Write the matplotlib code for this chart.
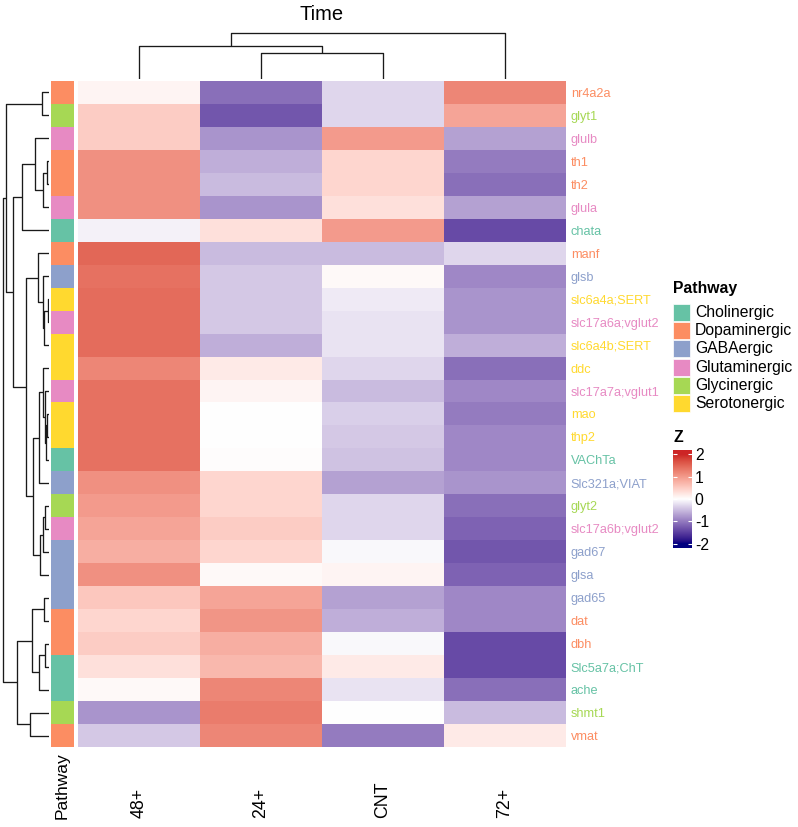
import numpy as np
import matplotlib
matplotlib.use("Agg")
import matplotlib.pyplot as plt
from matplotlib.colors import ListedColormap, Normalize
from matplotlib.patches import Rectangle
import matplotlib.transforms as mtransforms

# ---------------- data ----------------
genes = ["nr4a2a", "glyt1", "glulb", "th1", "th2", "glula", "chata", "manf", "glsb",
         "slc6a4a;SERT", "slc17a6a;vglut2", "slc6a4b;SERT", "ddc", "slc17a7a;vglut1",
         "mao", "thp2", "VAChTa", "Slc321a;VIAT", "glyt2", "slc17a6b;vglut2", "gad67",
         "glsa", "gad65", "dat", "dbh", "Slc5a7a;ChT", "ache", "shmt1", "vmat"]
pathway = ["Dopaminergic", "Glycinergic", "Glutaminergic", "Dopaminergic", "Dopaminergic",
           "Glutaminergic", "Cholinergic", "Dopaminergic", "GABAergic", "Serotonergic",
           "Glutaminergic", "Serotonergic", "Serotonergic", "Glutaminergic", "Serotonergic",
           "Serotonergic", "Cholinergic", "GABAergic", "Glycinergic", "Glutaminergic",
           "GABAergic", "GABAergic", "GABAergic", "Dopaminergic", "Dopaminergic",
           "Cholinergic", "Cholinergic", "Glycinergic", "Dopaminergic"]
pathway_levels = ["Cholinergic", "Dopaminergic", "GABAergic", "Glutaminergic",
                  "Glycinergic", "Serotonergic"]
pathway_colors = ["#66C2A5", "#FC8D62", "#8DA0CB", "#E78AC3", "#A6D854", "#FFD92F"]

time_cols = ["48+", "24+", "CNT", "72+"]
z_48 = [0.1, 0.5, 0.5, 1.1, 1.1, 1.1, -0.1, 1.5, 1.4, 1.45, 1.45, 1.45, 1.2, 1.4, 1.4,
        1.4, 1.4, 1.1, 1.0, 0.9, 0.8, 1.1, 0.55, 0.4, 0.5, 0.3, 0.05, -0.8, -0.4]
z_24 = [-1.1, -1.3, -0.8, -0.6, -0.5, -0.8, 0.3, -0.5, -0.4, -0.4, -0.4, -0.6, 0.2, 0.1,
        0.0, 0.0, 0.02, 0.4, 0.4, 0.5, 0.4, 0.05, 0.9, 1.05, 0.8, 0.7, 1.2, 1.3, 1.2]
z_cnt = [-0.3, -0.3, 1.0, 0.4, 0.4, 0.3, 1.0, -0.5, 0.05, -0.15, -0.2, -0.2, -0.3, -0.5,
         -0.35, -0.4, -0.45, -0.7, -0.3, -0.3, -0.05, 0.1, -0.7, -0.6, -0.05, 0.2, -0.2,
         0.0, -1.0]
z_72 = [1.2, 0.9, -0.7, -1.0, -1.1, -0.7, -1.4, -0.3, -0.9, -0.8, -0.8, -0.6, -1.1, -0.9,
        -1.0, -0.9, -0.9, -0.8, -1.1, -1.2, -1.3, -1.2, -0.9, -0.9, -1.4, -1.4, -1.1,
        -0.5, 0.2]

# row dendrogram merges: [child_a, child_b, height]; new node index = n_leaves + k
row_links = [
    [9, 10, 1.3], [3, 4, 2.3], [14, 15, 1.5], [31, 16, 3.0], [29, 11, 4.5],
    [13, 32, 4.0], [18, 19, 4.0], [24, 25, 4.0], [22, 23, 5.0], [30, 5, 5.7],
    [8, 33, 5.7], [12, 34, 5.7], [35, 20, 5.7], [0, 1, 7.3], [40, 17, 9.7],
    [41, 21, 9.0], [36, 26, 9.7], [7, 39, 11.3], [2, 38, 14.0], [43, 44, 15.7],
    [37, 45, 16.7], [27, 28, 19.0], [46, 48, 23.0], [47, 6, 26.7], [49, 50, 31.7],
    [52, 51, 35.7], [42, 54, 43.3], [55, 53, 45.7]]
# column dendrogram merges
col_links = [[1, 2, 25.7], [0, 4, 33.3], [5, 3, 45.7]]

# ---------------- colour map (LAB interpolation navy - white - firebrick3) ----------------
def _hex(h):
    h = h.lstrip("#")
    return np.array([int(h[i:i + 2], 16) / 255 for i in (0, 2, 4)])

_M = np.array([[0.4124564, 0.3575761, 0.1804375],
               [0.2126729, 0.7151522, 0.0721750],
               [0.0193339, 0.1191920, 0.9503041]])
_WN = np.array([0.95047, 1.0, 1.08883])

def rgb2lab(c):
    lin = np.where(c <= 0.04045, c / 12.92, ((c + 0.055) / 1.055) ** 2.4)
    xyz = _M @ lin / _WN
    d = 6 / 29
    f = np.where(xyz > d ** 3, np.cbrt(xyz), xyz / (3 * d * d) + 4 / 29)
    return np.array([116 * f[1] - 16, 500 * (f[0] - f[1]), 200 * (f[1] - f[2])])

def lab2rgb(lab):
    L, a, b = lab
    fy = (L + 16) / 116
    f = np.array([fy + a / 500, fy, fy - b / 200])
    d = 6 / 29
    xyz = np.where(f > d, f ** 3, 3 * d * d * (f - 4 / 29)) * _WN
    lin = np.linalg.solve(_M, xyz)
    lin = np.clip(lin, 0, 1)
    c = np.where(lin <= 0.0031308, 12.92 * lin, 1.055 * lin ** (1 / 2.4) - 0.055)
    return np.clip(c, 0, 1)

lab_lo, lab_mid, lab_hi = rgb2lab(_hex("#000080")), rgb2lab(_hex("#FFFFFF")), rgb2lab(_hex("#CD2626"))
cols = []
for v in np.linspace(-2, 2, 401):
    if v < 0:
        t = (v + 2) / 2
        lab = lab_lo * (1 - t) + lab_mid * t
    else:
        t = v / 2
        lab = lab_mid * (1 - t) + lab_hi * t
    cols.append(lab2rgb(lab))
zcmap = ListedColormap(cols)
znorm = Normalize(-2, 2, clip=True)

# ---------------- layout helpers ----------------
W, H = 798, 827
plt.rcParams["font.family"] = ["Liberation Sans", "DejaVu Sans"]
plt.rcParams["axes.unicode_minus"] = False
fig = plt.figure(figsize=(W / 100, H / 100), dpi=100)

def rect(x0, y0, x1, y1):
    return [x0 / W, 1 - y1 / H, (x1 - x0) / W, (y1 - y0) / H]

ov = fig.add_axes([0, 0, 1, 1])
ov.set_xlim(0, W)
ov.set_ylim(H, 0)
ov.axis("off")

n = len(genes)
hm_x0, hm_x1, hm_y0, hm_y1 = 78, 566, 81, 747

# heatmap
Z = np.column_stack([z_48, z_24, z_cnt, z_72])
ax_hm = fig.add_axes(rect(hm_x0, hm_y0, hm_x1, hm_y1))
ax_hm.imshow(Z, cmap=zcmap, norm=znorm, aspect="auto", interpolation="nearest",
             extent=(-0.5, len(time_cols) - 0.5, n - 0.5, -0.5))
ax_hm.set_xlim(-0.5, len(time_cols) - 0.5)
ax_hm.set_ylim(n - 0.5, -0.5)
for s in ax_hm.spines.values():
    s.set_visible(False)
ax_hm.set_xticks([])
ax_hm.yaxis.tick_right()
ax_hm.set_yticks(range(n))
ax_hm.set_yticklabels(genes, fontsize=9.2)
ax_hm.tick_params(axis="y", length=0, pad=3.5)
for lbl, p in zip(ax_hm.get_yticklabels(), pathway):
    lbl.set_color(pathway_colors[pathway_levels.index(p)])

# annotation column
ax_an = fig.add_axes(rect(51, hm_y0, 74, hm_y1))
codes = np.array([pathway_levels.index(p) for p in pathway]).reshape(-1, 1)
ax_an.imshow(codes, cmap=ListedColormap(pathway_colors), vmin=-0.5,
             vmax=len(pathway_levels) - 0.5, aspect="auto", interpolation="nearest",
             extent=(-0.5, 0.5, n - 0.5, -0.5))
ax_an.set_ylim(n - 0.5, -0.5)
ax_an.axis("off")

# dendrogram drawing
def dendro_segments(links, n_leaves):
    pos = {i: float(i) for i in range(n_leaves)}
    hgt = {i: 0.0 for i in range(n_leaves)}
    segs = []
    for k, (a, b, h) in enumerate(links):
        node = n_leaves + k
        segs.append(([pos[a], pos[a], pos[b], pos[b]], [hgt[a], h, h, hgt[b]]))
        pos[node] = (pos[a] + pos[b]) / 2
        hgt[node] = h
    return segs

line_kw = dict(color="#1a1a1a", lw=0.95, solid_capstyle="butt")

ax_rd = fig.add_axes(rect(0, hm_y0, 49, hm_y1))
for p, h in dendro_segments(row_links, n):
    ax_rd.plot(h, p, **line_kw)
ax_rd.set_xlim(49, 0)
ax_rd.set_ylim(n - 0.5, -0.5)
ax_rd.axis("off")

ax_cd = fig.add_axes(rect(hm_x0, 30, hm_x1, 79))
for p, h in dendro_segments(col_links, len(time_cols)):
    ax_cd.plot(p, h, **line_kw)
ax_cd.set_xlim(-0.5, len(time_cols) - 0.5)
ax_cd.set_ylim(0, 49)
ax_cd.axis("off")

# titles / column labels
ov.text((hm_x0 + hm_x1) / 2, 14, "Time", fontsize=14.5, ha="center", va="center")
blend = mtransforms.blended_transform_factory(ax_hm.transData, ov.transData)
for i, c in enumerate(time_cols):
    ax_hm.text(i, 818, c, transform=blend, rotation=90, rotation_mode="anchor",
               ha="left", va="center", fontsize=12.8, clip_on=False)
ov.text(62.5, 819, "Pathway", rotation=90, rotation_mode="anchor", ha="left",
        va="center", fontsize=12.5)

# pathway legend
ov.text(673, 289, "Pathway", fontsize=11.3, fontweight="bold", ha="left", va="center")
for i, (lv, col) in enumerate(zip(pathway_levels, pathway_colors)):
    yc = 312.5 + i * 18.2
    ov.add_patch(Rectangle((673, yc - 8.6), 17, 17.2, facecolor=col, edgecolor="white", lw=0.5))
    ov.text(695, yc, lv, fontsize=11.3, ha="left", va="center")

# Z colour bar
ov.text(673, 437, "Z", fontsize=11.3, fontweight="bold", ha="left", va="center")
cax = fig.add_axes(rect(673, 450, 692, 548))
grad = np.linspace(2.2, -2.2, 300).reshape(-1, 1)
cax.imshow(grad, cmap=zcmap, norm=znorm, aspect="auto", extent=(0, 1, -2.2, 2.2))
cax.set_ylim(-2.2, 2.2)
cax.set_xticks([])
cax.set_yticks([-2, -1, 0, 1, 2])
cax.yaxis.tick_right()
cax.tick_params(axis="y", left=True, right=True, direction="in", length=3,
                color="white", labelcolor="black", labelsize=11.3, pad=2)
for s in cax.spines.values():
    s.set_visible(False)

fig.savefig("out.png", dpi=100)
